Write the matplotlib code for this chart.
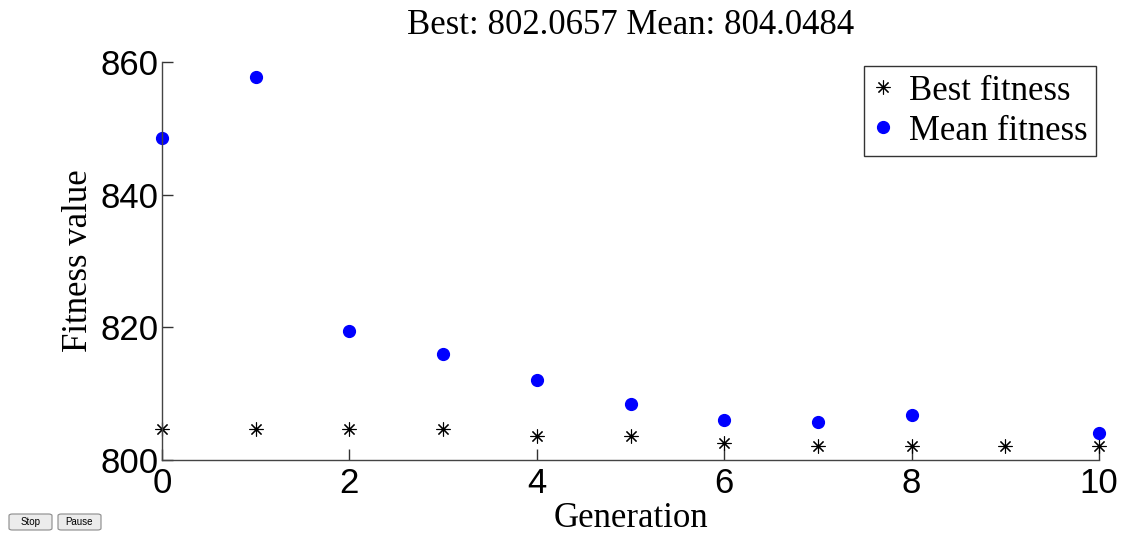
import matplotlib
matplotlib.use("Agg")
import matplotlib.pyplot as plt
from matplotlib.patches import FancyBboxPatch

generations = [0, 1, 2, 3, 4, 5, 6, 7, 8, 9, 10]
best_fitness = [804.7, 804.7, 804.7, 804.7, 803.6, 803.6, 802.6, 802.07, 802.07, 802.07, 802.0657]
mean_gens = [0, 1, 2, 3, 4, 5, 6, 7, 8, 10]
mean_fitness = [848.5, 857.7, 819.4, 816.0, 812.1, 808.4, 806.1, 805.7, 806.8, 804.0484]
x_ticks = [0, 2, 4, 6, 8, 10]
y_ticks = [800, 820, 840, 860]

serif = ["Liberation Serif", "DejaVu Serif"]
sans = ["Liberation Sans", "DejaVu Sans"]

fig = plt.figure(figsize=(11.23, 5.33), dpi=100)
ax = fig.add_axes([0.1443, 0.137, 0.8343, 0.7467])

ax.plot(generations, best_fitness, linestyle="none", marker=(8, 2, 0),
        markersize=10, markeredgewidth=0.8, color="black", clip_on=False,
        label="Best fitness")
ax.plot(mean_gens, mean_fitness, linestyle="none", marker="o",
        markersize=8.5, color="#0000ff", clip_on=False, label="Mean fitness")

ax.set_xlim(0, 10)
ax.set_ylim(800, 860)
ax.set_xticks(x_ticks)
ax.set_yticks(y_ticks)
for s in ["top", "right"]:
    ax.spines[s].set_visible(False)
for s in ["left", "bottom"]:
    ax.spines[s].set_color("#444444")
    ax.spines[s].set_linewidth(1.0)
ax.tick_params(direction="in", length=8, width=1.0, color="#333333",
               labelsize=25)
ax.tick_params(axis="x", pad=5)
ax.tick_params(axis="y", pad=2.5)
for lab in ax.get_xticklabels() + ax.get_yticklabels():
    lab.set_family(sans)

ax.set_xlabel("Generation", fontsize=25, family=serif, labelpad=1.5)
ax.set_ylabel("Fitness value", fontsize=25, family=serif, labelpad=4)
ax.set_title("Best: 802.0657 Mean: 804.0484", fontsize=25, family=serif, pad=20)

leg = ax.legend(loc="upper right", bbox_to_anchor=(0.9968, 0.99),
                prop={"family": serif, "size": 25}, frameon=True, fancybox=False,
                handlelength=0.6, handletextpad=0.45, borderpad=0.25,
                labelspacing=0.2, borderaxespad=0.0)
leg.get_frame().set_edgecolor("black")
leg.get_frame().set_linewidth(1.0)

# Stop / Pause buttons (figure pixels -> fraction)
W, H = 1123.0, 533.0
for label, x0, x1 in [("Stop", 9, 52), ("Pause", 58, 101)]:
    box = FancyBboxPatch((x0 / W, (H - 530) / H), (x1 - x0) / W, 16 / H,
                         boxstyle="round,pad=0,rounding_size=0.003",
                         transform=fig.transFigure, facecolor="#ececec",
                         edgecolor="#8a8a8a", linewidth=0.8)
    fig.patches.append(box)
    fig.text((x0 + x1) / 2 / W, (H - 522) / H, label, fontsize=7, family=sans,
             ha="center", va="center")

fig.savefig("out.png", dpi=100)
